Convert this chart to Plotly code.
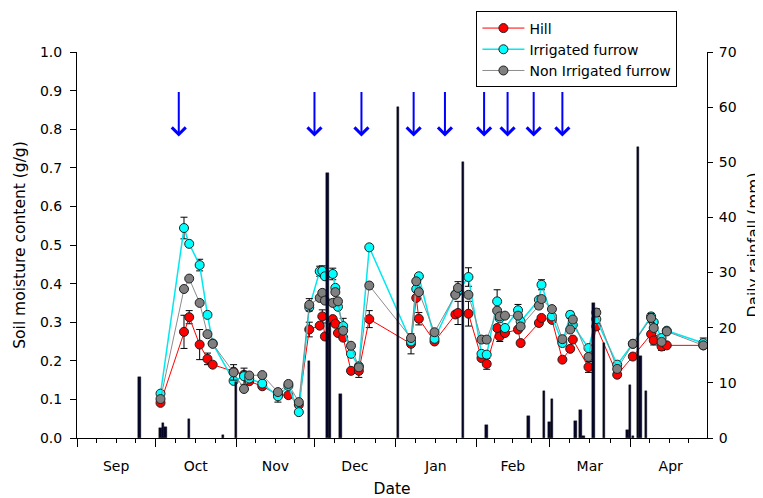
import pandas as pd
import plotly.graph_objects as go

# soil moisture sampling dates (g/g)
sample_dates = [
    "2013-10-03", "2013-10-12", "2013-10-14", "2013-10-18", "2013-10-21", "2013-10-23",
    "2013-10-31", "2013-11-04", "2013-11-06", "2013-11-11", "2013-11-17", "2013-11-21",
    "2013-11-25", "2013-11-29", "2013-12-03", "2013-12-04", "2013-12-05", "2013-12-08",
    "2013-12-09", "2013-12-10", "2013-12-12", "2013-12-15", "2013-12-18", "2013-12-22",
    "2014-01-07", "2014-01-09", "2014-01-10", "2014-01-16", "2014-01-24", "2014-01-25",
    "2014-01-29", "2014-02-03", "2014-02-05", "2014-02-09", "2014-02-10", "2014-02-12",
    "2014-02-17", "2014-02-18", "2014-02-25", "2014-02-26", "2014-03-02", "2014-03-06",
    "2014-03-09", "2014-03-10", "2014-03-16", "2014-03-19", "2014-03-27", "2014-04-02",
    "2014-04-09", "2014-04-10", "2014-04-13", "2014-04-15", "2014-04-29",
]
hill = [
    0.091, 0.275, 0.313, 0.242, 0.205, 0.190, 0.172, 0.164, 0.147, 0.134, 0.112, 0.111,
    0.086, 0.281, 0.291, 0.315, 0.263, 0.308, 0.296, 0.272, 0.260, 0.174, 0.174, 0.308,
    0.244, 0.363, 0.309, 0.250, 0.320, 0.324, 0.322, 0.207, 0.192, 0.285, 0.263, 0.272,
    0.281, 0.246, 0.298, 0.311, 0.306, 0.203, 0.231, 0.255, 0.184, 0.289, 0.164, 0.211,
    0.269, 0.253, 0.237, 0.240, 0.240,
]
irrigated = [
    0.115, 0.544, 0.503, 0.448, 0.319, 0.245, 0.148, 0.160, 0.154, 0.141, 0.108, 0.135,
    0.067, 0.338, 0.432, 0.433, 0.419, 0.425, 0.389, 0.340, 0.290, 0.218, 0.186, 0.494,
    0.250, 0.386, 0.419, 0.257, 0.372, 0.380, 0.417, 0.218, 0.216, 0.354, 0.310, 0.285,
    0.331, 0.302, 0.358, 0.397, 0.315, 0.246, 0.319, 0.293, 0.233, 0.308, 0.190, 0.244,
    0.315, 0.300, 0.259, 0.278, 0.246,
]
non_irrigated = [
    0.101, 0.386, 0.413, 0.350, 0.269, 0.244, 0.170, 0.127, 0.162, 0.163, 0.119, 0.140,
    0.093, 0.345, 0.363, 0.376, 0.356, 0.350, 0.378, 0.354, 0.278, 0.239, 0.183, 0.395,
    0.259, 0.406, 0.378, 0.274, 0.371, 0.389, 0.371, 0.255, 0.255, 0.330, 0.315, 0.317,
    0.317, 0.289, 0.343, 0.360, 0.334, 0.256, 0.281, 0.307, 0.210, 0.325, 0.179, 0.244,
    0.311, 0.285, 0.249, 0.276, 0.240,
]
hill_err = [
    0, 0.043, 0.017, 0.039, 0.015, 0, 0, 0, 0, 0, 0, 0,
    0, 0.019, 0, 0.017, 0, 0, 0, 0, 0, 0, 0.017, 0.022,
    0.026, 0, 0.016, 0, 0, 0.030, 0.032, 0, 0.014, 0, 0.013, 0,
    0, 0, 0, 0, 0, 0, 0, 0, 0.014, 0, 0, 0,
    0, 0.012, 0.010, 0, 0,
]
irrigated_err = [
    0, 0.028, 0, 0.015, 0, 0, 0, 0.021, 0, 0, 0.015, 0,
    0, 0, 0.013, 0.013, 0, 0.015, 0, 0, 0.020, 0, 0, 0,
    0, 0, 0, 0, 0, 0, 0.024, 0, 0, 0.030, 0, 0,
    0.015, 0, 0, 0.013, 0, 0, 0.009, 0, 0, 0, 0, 0,
    0, 0, 0, 0, 0.013,
]
non_irrigated_err = [
    0, 0, 0, 0, 0, 0, 0.020, 0, 0, 0, 0, 0,
    0, 0.016, 0, 0, 0, 0, 0, 0, 0, 0, 0, 0,
    0, 0, 0, 0, 0, 0.016, 0, 0, 0, 0, 0, 0,
    0, 0, 0, 0, 0, 0, 0, 0, 0, 0.010, 0, 0,
    0.012, 0, 0, 0, 0,
]

# daily rainfall (mm)
rain_dates = [
    "2013-09-25", "2013-10-03", "2013-10-04", "2013-10-05", "2013-10-14", "2013-10-27",
    "2013-11-01", "2013-11-29", "2013-12-06", "2013-12-07", "2013-12-11", "2014-01-02",
    "2014-01-27", "2014-02-05", "2014-02-21", "2014-02-27", "2014-03-01", "2014-03-02",
    "2014-03-11", "2014-03-13", "2014-03-14", "2014-03-18", "2014-03-22", "2014-03-31",
    "2014-04-01", "2014-04-02", "2014-04-04", "2014-04-05", "2014-04-07",
]
rain_mm = [
    11.0, 1.8, 2.8, 2.0, 3.4, 0.6,
    10.2, 14.0, 48.1, 20.9, 8.0, 60.0,
    50.0, 2.4, 4.0, 8.6, 2.9, 7.0,
    3.0, 5.0, 0.4, 24.4, 17.2, 1.5,
    9.6, 0.3, 52.8, 14.8, 8.6,
]

# irrigation events (blue arrows)
irrigation_dates = [
    "2013-10-10", "2013-12-01", "2013-12-19", "2014-01-08", "2014-01-20",
    "2014-02-04", "2014-02-13", "2014-02-23", "2014-03-06",
]

FONT = "DejaVu Sans"
DAY_MS = 86400000

fig = go.Figure()

series = [
    ("Hill", hill, hill_err, "#ff0000", "#ff0000", 1),
    ("Irrigated furrow", irrigated, irrigated_err, "#00ffff", "#00e8f0", 1.5),
    ("Non Irrigated furrow", non_irrigated, non_irrigated_err, "#808080", "#8c8c8c", 1),
]
for name, vals, errs, fill, lcol, lw in series:
    fig.add_trace(go.Scatter(
        x=sample_dates, y=vals, name=name, mode="lines+markers",
        line=dict(color=lcol, width=lw),
        marker=dict(size=9, color=fill, line=dict(color="#202020", width=1)),
        error_y=dict(type="data", array=errs, color="black", thickness=1, width=3.5),
        yaxis="y",
    ))

fig.add_trace(go.Bar(
    x=rain_dates, y=rain_mm, width=0.95 * DAY_MS, yaxis="y2",
    marker=dict(color="#06062a", line=dict(color="#000000", width=0.4)),
    showlegend=False,
))

for d in irrigation_dates:
    fig.add_annotation(
        x=d, y=0.781, ax=d, ay=0.9, xref="x", yref="y", axref="x", ayref="y",
        text="", showarrow=True, arrowhead=4, arrowsize=1.35, arrowwidth=2,
        arrowcolor="#0000ff",
    )

# minor ticks: three per month
months = pd.date_range("2013-09-01", "2014-05-01", freq="MS")
minor_vals = []
for s, e in zip(months[:-1], months[1:]):
    for k in (1, 2, 3):
        minor_vals.append((s + (e - s) * k / 4).strftime("%Y-%m-%d %H:%M"))

# page body keeps an 8px margin, so the figure is 8px smaller than the window
fig.update_layout(
    width=755, height=490,
    margin=dict(l=69, r=56, t=44, b=60, autoexpand=False),
    paper_bgcolor="white", plot_bgcolor="white",
    font=dict(family=FONT, size=14, color="black"),
    showlegend=True,
    legend=dict(
        x=0.634, y=1.105, xanchor="left", yanchor="top",
        bgcolor="white", bordercolor="black", borderwidth=1,
        font=dict(family=FONT, size=14), tracegroupgap=0, itemwidth=42,
    ),
    bargap=0,
    xaxis=dict(
        type="date", range=["2013-09-01", "2014-04-30 10:00"],
        tickmode="linear", tick0="2013-09-01", dtick="M1",
        ticklabelmode="period", tickformat="%b",
        ticks="outside", ticklen=8, tickwidth=1, tickcolor="black",
        ticklabelstandoff=7, automargin=False,
        minor=dict(tickmode="array", tickvals=minor_vals, ticks="outside",
                   ticklen=4, tickwidth=1, tickcolor="black"),
        showline=True, linecolor="black", linewidth=1,
        showgrid=False, zeroline=False,
        title=dict(text="Date", font=dict(family=FONT, size=15.5), standoff=10),
    ),
    yaxis=dict(
        range=[0, 1], dtick=0.1, tickformat=".1f",
        ticks="outside", ticklen=6, tickwidth=1, tickcolor="black",
        ticklabelstandoff=5, automargin=False,
        showline=True, linecolor="black", linewidth=1,
        showgrid=False, zeroline=False,
        title=dict(text="Soil moisture content (g/g)",
                   font=dict(family=FONT, size=15.5), standoff=10),
    ),
    yaxis2=dict(
        overlaying="y", side="right", range=[0, 70], dtick=10,
        ticks="outside", ticklen=5, tickwidth=1, tickcolor="black",
        ticklabelstandoff=3, automargin=False,
        showline=True, linecolor="black", linewidth=1,
        showgrid=False, zeroline=False,
        title=dict(text="Daily rainfall (mm)",
                   font=dict(family=FONT, size=15.5), standoff=12),
    ),
)

fig.write_html("out.html")
